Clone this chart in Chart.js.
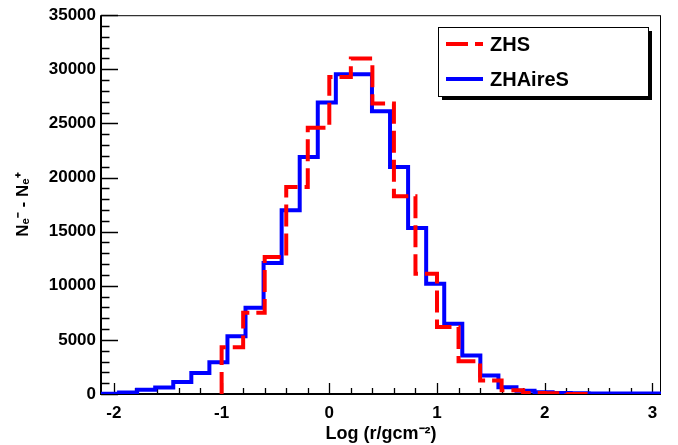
<!DOCTYPE html>
<html>
<head>
<meta charset="utf-8">
<script src="https://cdn.jsdelivr.net/npm/chart.js@4/dist/chart.umd.min.js"></script>
<style>
  html, body { margin: 0; padding: 0; background: #fff; }
  canvas { display: block; }
</style>
</head>
<body>
<canvas id="histChart" width="678" height="445"></canvas>
<script>
// x axis range and tick labels
const xRange = [-2.12, 3.08];
const xTickValues = [-2, -1, 0, 1, 2, 3];
const yTickStep = 5000;
const yMax = 35000;

// ZHS: 0.2 wide bins starting at log r = -1.0
const zhsStart = -1.0;
const zhsBinWidth = 0.2;
const zhsCounts = [3960, 4330, 7510, 12650, 19130, 24590, 29300, 31000, 26840,
                   18270, 11120, 6180, 3030, 1250, 350, 100, 60];

// ZHAireS: 31 bins spanning the whole axis
const aireStart = -2.12;
const aireBinWidth = 5.2 / 31;
const aireCounts = [80, 20, 140, 390, 600, 1110, 1930, 2940, 5330, 7970, 12100,
                    16970, 21900, 26930, 29550, 29550, 26130, 20980, 15340, 10190,
                    6490, 3560, 1710, 630, 300, 170, 100, 60, 40, 50, 50];

const seriesLabels = ['ZHS', 'ZHAireS'];
const seriesColors = ['#ff0000', '#0000ff'];
const zhsDash = [22, 7];

const FONT = "'Liberation Sans', Arial, sans-serif";

function histPoints(start, width, counts, closed) {
    const pts = [];
    if (closed) pts.push({ x: start, y: 0 });
    counts.forEach(function(c, i) {
        pts.push({ x: start + i * width, y: c });
    });
    pts.push({ x: start + counts.length * width, y: closed ? 0 : counts[counts.length - 1] });
    return pts;
}

// frame, inward ticks (drawn under the histograms)
const axesPlugin = {
    id: 'rootAxes',
    beforeDatasetsDraw(chart) {
        const ctx = chart.ctx;
        const a = chart.chartArea;
        const xs = chart.scales.x;
        const ys = chart.scales.y;
        ctx.save();
        ctx.strokeStyle = '#000';

        // thin frame
        ctx.lineWidth = 1;
        ctx.strokeRect(a.left + 0.5, a.top + 0.5, a.right - a.left - 1, a.bottom - a.top);

        // x ticks: major every 1, minor every 0.2
        ctx.lineWidth = 1.3;
        ctx.beginPath();
        for (let v = -2.0; v <= xRange[1] + 1e-9; v += 0.2) {
            const px = Math.round(xs.getPixelForValue(v)) + 0.5;
            const major = Math.abs(v - Math.round(v)) < 1e-6;
            const len = major ? 11 : 6;
            ctx.moveTo(px, a.bottom);
            ctx.lineTo(px, a.bottom - len);
        }
        // y ticks: major every 5000, minor every 1000
        for (let v = 0; v <= yMax; v += 1000) {
            const py = Math.round(ys.getPixelForValue(v)) + 0.5;
            const len = v % yTickStep === 0 ? 17 : 8.5;
            ctx.moveTo(a.left, py);
            ctx.lineTo(a.left + len, py);
        }
        ctx.stroke();

        // thick left and bottom axes
        ctx.lineWidth = 2;
        ctx.beginPath();
        ctx.moveTo(a.left, a.top);
        ctx.lineTo(a.left, a.bottom);
        ctx.lineTo(a.right, a.bottom);
        ctx.stroke();
        ctx.restore();
    }
};

// boxed legend with drop shadow
const legendPlugin = {
    id: 'rootLegend',
    afterDraw(chart) {
        const ctx = chart.ctx;
        const box = { x: 438, y: 27, w: 210, h: 69 };
        ctx.save();
        ctx.fillStyle = '#000';
        ctx.fillRect(box.x + 4, box.y + 4, box.w, box.h);
        ctx.fillStyle = '#fff';
        ctx.fillRect(box.x, box.y, box.w, box.h);
        ctx.strokeStyle = '#000';
        ctx.lineWidth = 1;
        ctx.strokeRect(box.x + 0.5, box.y + 0.5, box.w, box.h);

        const rows = [44, 79];
        chart.data.datasets.forEach(function(ds, i) {
            ctx.strokeStyle = ds.borderColor;
            ctx.lineWidth = 4;
            ctx.setLineDash(ds.borderDash || []);
            ctx.beginPath();
            ctx.moveTo(446, rows[i]);
            ctx.lineTo(483, rows[i]);
            ctx.stroke();
            ctx.setLineDash([]);
            ctx.fillStyle = '#000';
            ctx.font = 'bold 20px ' + FONT;
            ctx.textBaseline = 'middle';
            ctx.fillText(ds.label, 490, rows[i] + 1);
        });
        ctx.restore();
    }
};

new Chart(document.getElementById('histChart'), {
    type: 'line',
    data: {
        datasets: [
            {
                label: seriesLabels[0],
                data: histPoints(zhsStart, zhsBinWidth, zhsCounts, true),
                borderColor: seriesColors[0],
                borderDash: zhsDash,
                borderWidth: 4,
                stepped: 'after',
                pointRadius: 0,
                fill: false
            },
            {
                label: seriesLabels[1],
                data: histPoints(aireStart, aireBinWidth, aireCounts, false),
                borderColor: seriesColors[1],
                borderWidth: 4,
                stepped: 'after',
                pointRadius: 0,
                fill: false
            }
        ]
    },
    options: {
        responsive: false,
        animation: false,
        layout: { padding: { left: 0, top: 15, right: 17, bottom: 0 } },
        plugins: {
            legend: { display: false },
            tooltip: { enabled: false }
        },
        scales: {
            x: {
                type: 'linear',
                min: xRange[0],
                max: xRange[1],
                grid: { display: false, drawTicks: false },
                border: { display: false },
                afterBuildTicks: function(scale) {
                    scale.ticks = xTickValues.map(function(v) { return { value: v }; });
                },
                afterFit: function(scale) { scale.height = 51; },
                ticks: {
                    color: '#000',
                    padding: 9,
                    maxRotation: 0,
                    font: { family: FONT, size: 17, weight: 'bold' },
                    callback: function(v) { return String(v); }
                },
                title: {
                    display: true,
                    text: 'Log (r/gcm\u207B\u00B2)',
                    color: '#000',
                    padding: { top: 0, bottom: 0 },
                    font: { family: FONT, size: 18, weight: 'bold' }
                }
            },
            y: {
                type: 'linear',
                min: 0,
                max: yMax,
                grid: { display: false, drawTicks: false },
                border: { display: false },
                afterFit: function(scale) { scale.width = 101; },
                ticks: {
                    stepSize: yTickStep,
                    color: '#000',
                    padding: 5,
                    font: { family: FONT, size: 17, weight: 'bold' },
                    callback: function(v) { return String(v); }
                },
                title: {
                    display: true,
                    text: 'N\u2091\u207B - N\u2091\u207A',
                    color: '#000',
                    padding: { top: 13, bottom: 0 },
                    font: { family: FONT, size: 17, weight: 'bold' }
                }
            }
        }
    },
    plugins: [axesPlugin, legendPlugin]
});
</script>
</body>
</html>
